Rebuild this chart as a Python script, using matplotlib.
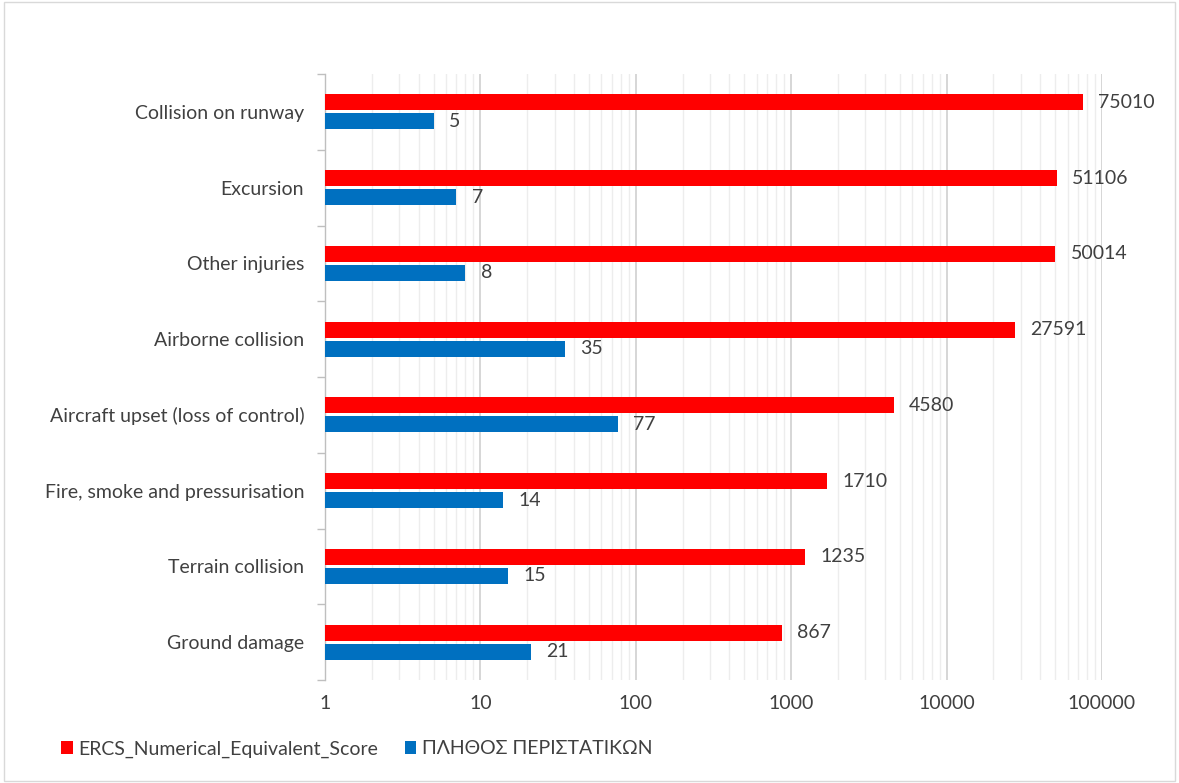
import numpy as np
import matplotlib.pyplot as plt
from matplotlib.ticker import LogLocator, NullFormatter, FixedLocator

categories = ['Collision on runway', 'Excursion', 'Other injuries', 'Airborne collision',
              'Aircraft upset (loss of control)', 'Fire, smoke and pressurisation',
              'Terrain collision', 'Ground damage']
ercs_score = [75010, 51106, 50014, 27591, 4580, 1710, 1235, 867]
incidents = [5, 7, 8, 35, 77, 14, 15, 21]
series_names = ['ERCS_Numerical_Equivalent_Score', 'ΠΛΗΘΟΣ ΠΕΡΙΣΤΑΤΙΚΩΝ']

plt.rcParams['font.family'] = ['Lato', 'DejaVu Sans']
txt = '#404040'
fs = 14

fig = plt.figure(figsize=(11.79, 7.83), dpi=100)
ax = fig.add_axes([0.2757, 0.1315, 0.659, 0.774])

y = np.arange(len(categories))
h = 0.21
r = ax.barh(y - 0.125, ercs_score, height=h, left=0, color='#ff0000', label=series_names[0], zorder=3)
b = ax.barh(y + 0.125, incidents, height=h, left=0, color='#0070c0', label=series_names[1], zorder=3)

ax.set_xscale('log')
ax.set_xlim(1, 100000)
ax.set_ylim(len(categories) - 0.5, -0.5)

for rect, v in zip(r, ercs_score):
    ax.annotate(str(v), (v, rect.get_y() + rect.get_height() / 2), xytext=(11, 0),
                textcoords='offset points', va='center', ha='left', fontsize=fs, color=txt)
for rect, v in zip(b, incidents):
    ax.annotate(str(v), (v, rect.get_y() + rect.get_height() / 2), xytext=(11, 0),
                textcoords='offset points', va='center', ha='left', fontsize=fs, color=txt)

ax.xaxis.set_minor_locator(LogLocator(base=10, subs=np.arange(2, 10)))
ax.xaxis.set_minor_formatter(NullFormatter())
ax.set_xticks([1, 10, 100, 1000, 10000, 100000])
ax.set_xticklabels(['1', '10', '100', '1000', '10000', '100000'])
ax.grid(True, which='major', axis='x', color='#d0d0d0', lw=1.2, zorder=0)
ax.grid(True, which='minor', axis='x', color='#ededed', lw=1, zorder=0)
ax.tick_params(axis='x', which='both', length=0, labelsize=fs, labelcolor=txt, pad=11)

ax.set_yticks(y)
ax.set_yticklabels(categories)
ax.tick_params(axis='y', which='major', length=0, labelsize=fs, labelcolor=txt, pad=15)
ax.yaxis.set_minor_locator(FixedLocator(np.arange(-0.5, len(categories), 1)))
ax.tick_params(axis='y', which='minor', length=6, color='#bfbfbf', width=1)

for s in ['top', 'right', 'bottom']:
    ax.spines[s].set_visible(False)
ax.spines['left'].set_color('#bfbfbf')
ax.spines['left'].set_linewidth(1)

fig.legend(handles=[r, b], labels=series_names, loc='lower left', bbox_to_anchor=(0.037, 0.01),
           ncol=2, frameon=False, fontsize=fs, labelcolor=txt, handlelength=0.6, handleheight=0.6,
           handletextpad=0.3, columnspacing=1.35)

fig.patches.append(plt.Rectangle((0.003, 0.003), 0.994, 0.994, transform=fig.transFigure,
                                 fill=False, edgecolor='#d9d9d9', lw=1))
fig.savefig('out.png', dpi=100)
